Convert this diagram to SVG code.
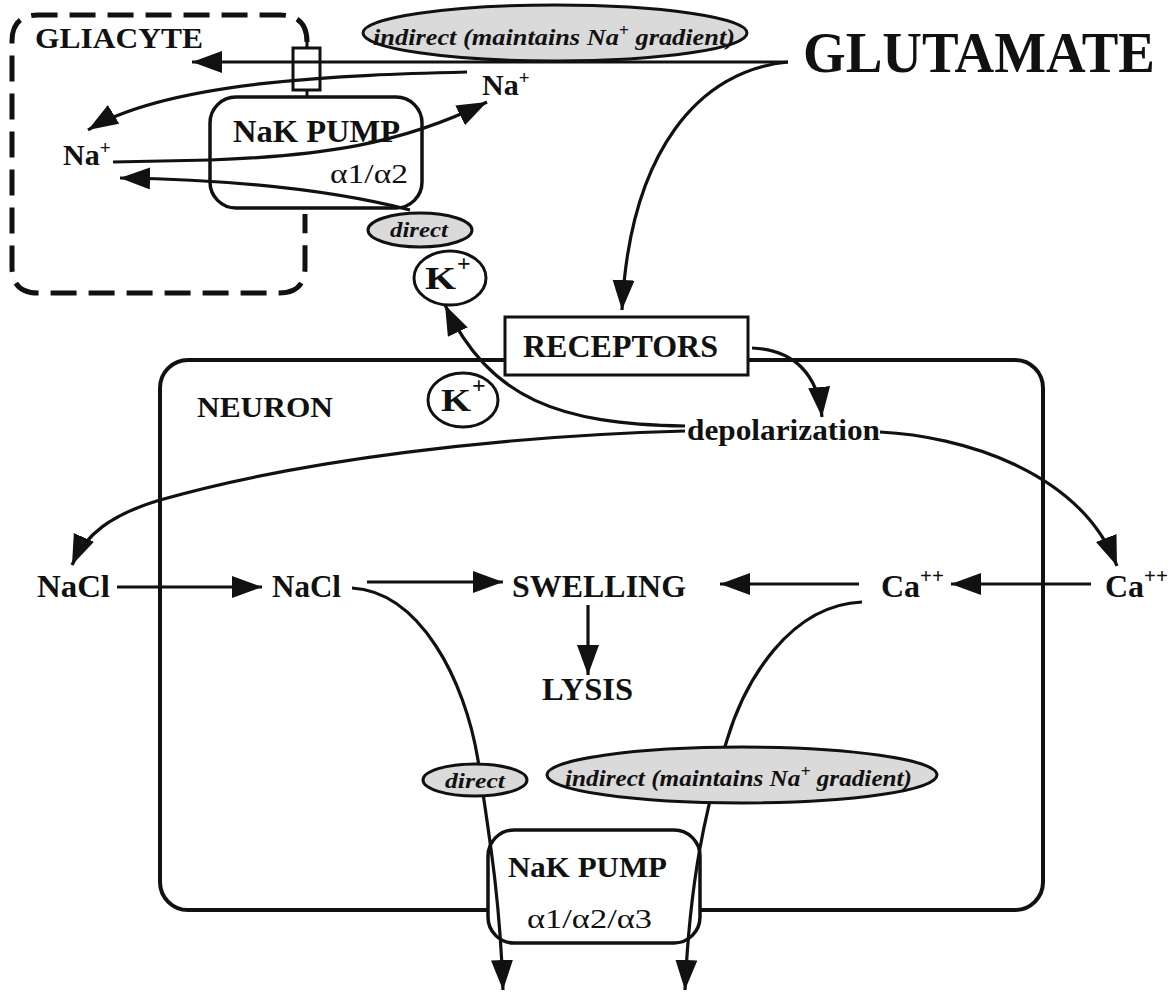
<svg xmlns="http://www.w3.org/2000/svg" width="1176" height="992" viewBox="0 0 1176 992">
<style>
.t{font-family:"Liberation Serif","Times New Roman",serif;font-weight:bold;fill:#111}
.n{font-family:"Liberation Serif","Times New Roman",serif;font-weight:normal;fill:#111}
.it{font-family:"Liberation Serif","Times New Roman",serif;font-weight:bold;font-style:italic;fill:#111}
.ln{fill:none;stroke:#111;stroke-width:3.2}
.arr{marker-end:url(#ah)}
.lbl{fill:#dadada;stroke:#111;stroke-width:3}
.box{fill:#fff;stroke:#111;stroke-width:3.5}
</style>
<defs>
<marker id="ah" markerUnits="userSpaceOnUse" markerWidth="32" markerHeight="24" refX="30" refY="11" orient="auto">
<path d="M0,0 L30,11 L0,22 z" fill="#111"/>
</marker>
</defs>
<rect width="1176" height="992" fill="#fff"/>

<g id="gliacyte">
<path d="M307 42 Q307 15 280 15 L38 15 Q12 15 12 41 L12 267 Q12 293 38 293 L279 293 Q305 293 305 267 L305 214" fill="none" stroke="#111" stroke-width="5" stroke-dasharray="26 12"/>
<line x1="307" y1="36" x2="307" y2="48" stroke="#111" stroke-width="3"/>
<line x1="307" y1="90" x2="307" y2="97" stroke="#111" stroke-width="3"/>
<text class="t" x="35" y="48" font-size="29" textLength="168" lengthAdjust="spacingAndGlyphs">GLIACYTE</text>
</g>

<g id="neuron">
<rect x="160" y="360" width="883" height="550" rx="28" fill="none" stroke="#111" stroke-width="4"/>
<text class="t" x="197" y="417" font-size="30" textLength="136" lengthAdjust="spacingAndGlyphs">NEURON</text>
</g>

<g id="receptors">
<rect x="505" y="317" width="243" height="58" fill="#fff" stroke="#111" stroke-width="3"/>
<text class="t" x="523" y="357" font-size="32" textLength="195" lengthAdjust="spacingAndGlyphs">RECEPTORS</text>
</g>

<g id="pump-neuron">
<rect class="box" x="488" y="830" width="212" height="113" rx="26"/>
<text class="t" x="508" y="877" font-size="30" textLength="159" lengthAdjust="spacingAndGlyphs">NaK PUMP</text>
<text class="n" x="527" y="928" font-size="28" textLength="125" lengthAdjust="spacingAndGlyphs">α1/α2/α3</text>
</g>

<g id="pump-glia">
<rect class="box" x="210" y="97" width="212" height="111" rx="26"/>
<text class="t" x="233" y="142" font-size="31" textLength="167" lengthAdjust="spacingAndGlyphs">NaK PUMP</text>
<text class="n" x="330" y="183" font-size="28" textLength="78" lengthAdjust="spacingAndGlyphs">α1/α2</text>
</g>

<g id="channel">
<rect x="293" y="48" width="27" height="42" fill="#fff" stroke="#111" stroke-width="3"/>
</g>

<g id="connectors">
<path class="ln arr" d="M788 62 L192 62"/>
<path class="ln arr" d="M788 62 C700 70 630 150 622 310"/>
<path class="ln arr" d="M467 72 C350 75 170 80 88 130"/>
<path class="ln arr" d="M113 162 L210 160 C320 156 400 145 487 102"/>
<path class="ln arr" d="M410 210 C340 192 250 180 120 178"/>
<path class="ln arr" d="M752 348 C795 350 818 375 822 417"/>
<path class="ln arr" d="M685 426 C560 424 490 400 445 305"/>
<path class="ln arr" d="M685 431 C500 436 300 460 160 500 C110 515 85 535 72 565"/>
<path class="ln arr" d="M880 432 C960 436 1080 470 1117 566"/>
<path class="ln arr" d="M117 587 L262 587"/>
<path class="ln arr" d="M367 582 L503 582"/>
<path class="ln arr" d="M859 584 L720 584"/>
<path class="ln arr" d="M1091 584 L951 584"/>
<path class="ln arr" d="M588 605 L588 675"/>
<path class="ln arr" d="M352 588 C420 592 465 680 478 760 C490 840 500 900 503 990"/>
<path class="ln arr" d="M862 602 C790 605 745 680 727 740 C705 810 690 880 685 990"/>
</g>

<g id="label-indirect-top">
<ellipse class="lbl" cx="555" cy="33" rx="192" ry="28"/>
<text class="it" x="373" y="45" font-size="24" textLength="362" lengthAdjust="spacingAndGlyphs">indirect (maintains Na<tspan font-size="16" dy="-9">+</tspan><tspan dy="9"> gradient)</tspan></text>
</g>

<g id="label-direct-top">
<ellipse class="lbl" cx="420" cy="230" rx="52" ry="17"/>
<text class="it" x="390" y="237" font-size="22" textLength="58" lengthAdjust="spacingAndGlyphs">direct</text>
</g>

<g id="label-direct-bottom">
<ellipse class="lbl" cx="475" cy="780" rx="52" ry="16"/>
<text class="it" x="445" y="788" font-size="22" textLength="60" lengthAdjust="spacingAndGlyphs">direct</text>
</g>

<g id="label-indirect-bottom">
<ellipse class="lbl" cx="742" cy="775" rx="195" ry="28"/>
<text class="it" x="565" y="786" font-size="23" textLength="347" lengthAdjust="spacingAndGlyphs">indirect (maintains Na<tspan font-size="16" dy="-9">+</tspan><tspan dy="9"> gradient)</tspan></text>
</g>

<g id="glutamate">
<text class="t" x="803" y="72" font-size="56" textLength="352" lengthAdjust="spacingAndGlyphs">GLUTAMATE</text>
</g>

<g id="na-top">
<text class="t" x="482" y="95" font-size="30">Na<tspan font-size="19" dy="-11">+</tspan></text>
</g>
<g id="na-left">
<text class="t" x="63" y="165" font-size="30">Na<tspan font-size="19" dy="-11">+</tspan></text>
</g>

<g id="k-outside">
<ellipse cx="450" cy="278" rx="36" ry="27" fill="#fff" stroke="#111" stroke-width="3"/>
<text class="t" x="425" y="289" font-size="31" textLength="31" lengthAdjust="spacingAndGlyphs">K</text>
<text class="t" x="457" y="271" font-size="24">+</text>
</g>
<g id="k-inside">
<ellipse cx="463" cy="400" rx="35" ry="27" fill="#fff" stroke="#111" stroke-width="3"/>
<text class="t" x="441" y="411" font-size="31" textLength="30" lengthAdjust="spacingAndGlyphs">K</text>
<text class="t" x="472" y="393" font-size="24">+</text>
</g>

<g id="depolarization">
<text class="t" x="687" y="440" font-size="30" textLength="193" lengthAdjust="spacingAndGlyphs">depolarization</text>
</g>

<g id="nacl-out"><text class="t" x="37" y="597" font-size="31" textLength="73" lengthAdjust="spacingAndGlyphs">NaCl</text></g>
<g id="nacl-in"><text class="t" x="272" y="597" font-size="31" textLength="69" lengthAdjust="spacingAndGlyphs">NaCl</text></g>
<g id="swelling"><text class="t" x="512" y="597" font-size="31" textLength="174" lengthAdjust="spacingAndGlyphs">SWELLING</text></g>
<g id="lysis"><text class="t" x="542" y="700" font-size="31" textLength="91" lengthAdjust="spacingAndGlyphs">LYSIS</text></g>
<g id="ca-in"><text class="t" x="881" y="597" font-size="32">Ca<tspan font-size="21" dy="-14">++</tspan></text></g>
<g id="ca-out"><text class="t" x="1105" y="597" font-size="32">Ca<tspan font-size="21" dy="-14">++</tspan></text></g>
</svg>
